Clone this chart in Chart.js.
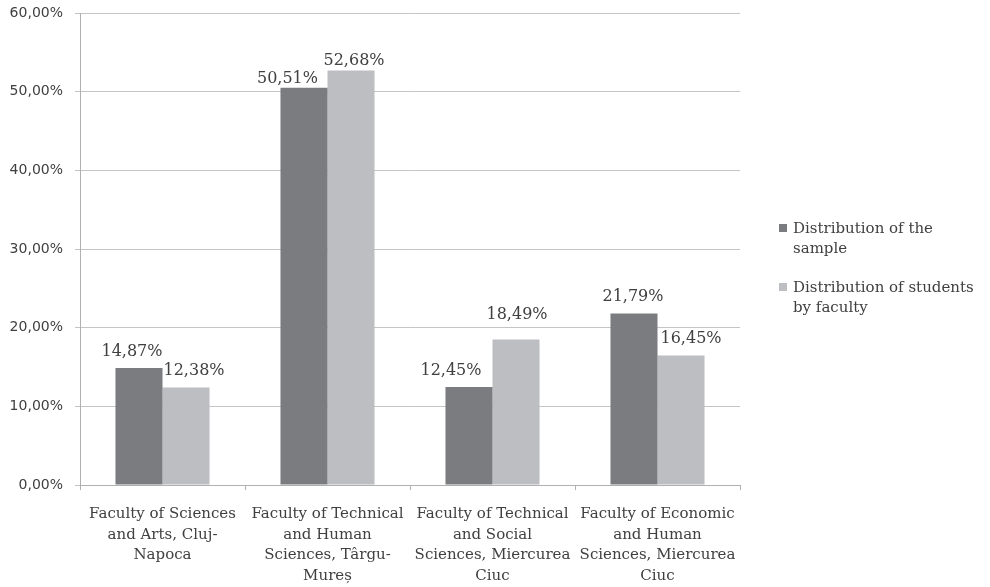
<!DOCTYPE html>
<html>
<head>
<meta charset="utf-8">
<script src="https://cdn.jsdelivr.net/npm/chart.js@4.4.1/dist/chart.umd.min.js"></script>
<style>
  html, body { margin: 0; padding: 0; background: #ffffff; }
  #wrap { position: relative; width: 990px; height: 587px; }
  #legend { position: absolute; left: 779px; top: 218px; font-family: "DejaVu Serif", serif; font-size: 15px; color: #404040; }
  .item { position: relative; padding-left: 14px; width: 192px; line-height: 20px; margin-bottom: 19px; }
  .swatch { position: absolute; left: 0; top: 6px; width: 8px; height: 8px; }
</style>
</head>
<body>
<div id="wrap">
  <canvas id="chart" width="990" height="587"></canvas>
  <div id="legend"></div>
</div>
<script>
// Faculties (axis labels, split into lines)
const categories = [
  ["Faculty of Sciences", "and Arts, Cluj-", "Napoca"],
  ["Faculty of Technical", "and Human", "Sciences, Târgu-", "Mureș"],
  ["Faculty of Technical", "and Social", "Sciences, Miercurea", "Ciuc"],
  ["Faculty of Economic", "and Human", "Sciences, Miercurea", "Ciuc"]
];
const seriesNames = ["Distribution of the sample", "Distribution of students by faculty"];
const sampleShare = [14.87, 50.51, 12.45, 21.79];
const facultyShare = [12.38, 52.68, 18.49, 16.45];
const yTicks = [0, 10, 20, 30, 40, 50, 60];

const colors = ["#7b7c80", "#bdbec2"];
const fmt = v => v.toFixed(2).replace('.', ',') + '%';

// value labels placed above each bar, with small nudges so neighbours do not collide
const valueLabels = {
  id: 'valueLabels',
  afterDatasetsDraw(chart, args, opts) {
    const ctx = chart.ctx;
    ctx.save();
    ctx.font = '16px "DejaVu Serif", serif';
    ctx.fillStyle = '#404040';
    ctx.textAlign = 'center';
    ctx.textBaseline = 'alphabetic';
    chart.data.datasets.forEach((ds, di) => {
      chart.getDatasetMeta(di).data.forEach((bar, i) => {
        const [dx, dy] = opts.nudge[di][i];
        ctx.fillText(fmt(ds.data[i]), bar.x + dx, bar.y - 12.5 + dy);
      });
    });
    ctx.restore();
  }
};

new Chart(document.getElementById('chart'), {
  type: 'bar',
  data: {
    labels: categories,
    datasets: [
      { label: seriesNames[0], data: sampleShare, backgroundColor: colors[0] },
      { label: seriesNames[1], data: facultyShare, backgroundColor: colors[1] }
    ]
  },
  options: {
    responsive: false,
    animation: false,
    layout: { padding: { top: 13, right: 250, left: 0, bottom: 0 } },
    datasets: { bar: { categoryPercentage: 0.57, barPercentage: 1.0 } },
    plugins: {
      legend: { display: false },
      tooltip: { enabled: false },
      valueLabels: {
        nudge: [
          [[-7, 0], [-16.5, 7.5], [-18, 0], [-1, 0]],
          [[8, 0], [3, 6.5], [1, -8.5], [10, 0]]
        ]
      }
    },
    scales: {
      x: {
        grid: { offset: true, drawOnChartArea: false, drawTicks: true, tickLength: 5, color: '#b0b0b0' },
        border: { color: '#b0b0b0' },
        ticks: {
          autoSkip: false, maxRotation: 0, minRotation: 0, padding: 14,
          color: '#404040',
          font: { family: '"DejaVu Serif", serif', size: 15, lineHeight: 1.37 }
        },
        afterFit(scale) { scale.height = 102; }
      },
      y: {
        min: 0, max: 60,
        afterBuildTicks(scale) { scale.ticks = yTicks.map(v => ({ value: v })); },
        grid: { color: '#c4c4c4', tickLength: 5, drawTicks: true },
        border: { color: '#b0b0b0' },
        ticks: {
          padding: 12, color: '#404040',
          font: { family: '"DejaVu Sans", sans-serif', size: 14 },
          callback: v => fmt(v)
        },
        afterFit(scale) {
          scale.width = 80;
          scale.paddingTop = 0;
          scale.paddingBottom = 0;
        }
      }
    }
  },
  plugins: [valueLabels]
});

// legend drawn as HTML so long entries wrap
const legend = document.getElementById('legend');
seriesNames.forEach((name, i) => {
  const item = document.createElement('div');
  item.className = 'item';
  const sw = document.createElement('span');
  sw.className = 'swatch';
  sw.style.background = colors[i];
  item.appendChild(sw);
  item.appendChild(document.createTextNode(name));
  legend.appendChild(item);
});
</script>
</body>
</html>
